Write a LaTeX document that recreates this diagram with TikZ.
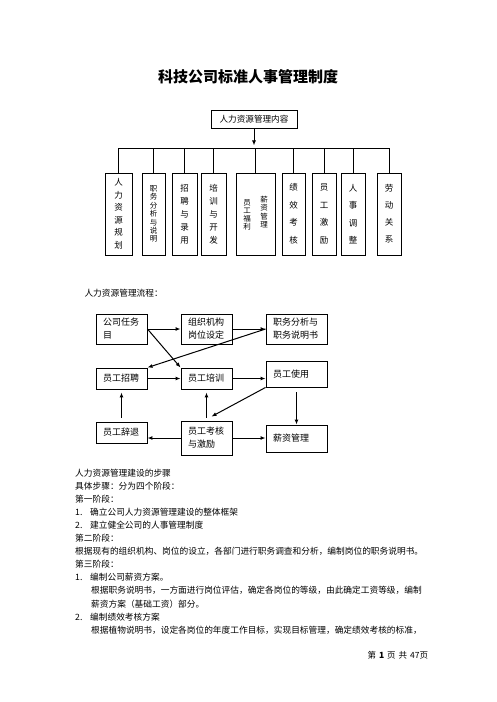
\documentclass[tikz,border=0pt]{standalone}
\usepackage{fontspec}
\setmainfont{Noto Sans CJK SC}
\usetikzlibrary{arrows.meta, positioning}

\tikzset{
  orgbox/.style={draw, line width=0.9pt, minimum height=82pt, inner sep=0pt,
    align=center, font=\fontsize{8.5}{12.5}\selectfont},
  vcol/.style={inner sep=0pt, align=center, font=\fontsize{7.5}{8.2}\selectfont},
  flowbox/.style={draw, line width=0.9pt, align=left, inner xsep=7pt, inner ysep=0pt,
    font=\fontsize{9}{13}\selectfont},
  flow/.style={->, line width=1pt},
  >={Latex[length=5pt,width=4pt]}
}

\begin{document}
\begin{tikzpicture}[x=1pt,y=1pt]
\useasboundingbox (0,0) rectangle (496,-702);
% title
\node[font=\fontsize{15}{18}\selectfont\bfseries] (title) at (248,-77) {科技公司标准人事管理制度};

% organisation chart
\node[draw, line width=0.9pt, minimum width=86pt, minimum height=18pt, inner sep=0pt,
  font=\fontsize{8.6}{10}\selectfont] (hr) at (254,-119) {人力资源管理内容};
\node[orgbox, minimum width=27pt] (b1) at (118.5,-214) {人\\力\\资\\源\\规\\划};
\node[orgbox, minimum width=23pt, font=\fontsize{7.5}{8.4}\selectfont] (b2) at (153.5,-214) {职\\务\\分\\析\\与\\说\\明};
\node[orgbox, minimum width=25pt, font=\fontsize{8.5}{13}\selectfont] (b3) at (184.5,-214) {招\\聘\\与\\录\\用};
\node[orgbox, minimum width=25pt, font=\fontsize{8.5}{13}\selectfont] (b4) at (213.5,-214) {培\\训\\与\\开\\发};
\node[orgbox, minimum width=39pt] (b5) at (255.5,-214) {};
\node[vcol] (b5a) at ([xshift=-8.5pt,yshift=-1pt]b5.center) {员\\工\\福\\利};
\node[vcol] (b5b) at ([xshift=8.5pt,yshift=2pt]b5.center) {薪\\资\\管\\理};
\node[orgbox, minimum width=23pt, font=\fontsize{8.5}{17.5}\selectfont] (b6) at (293.5,-214) {绩\\效\\考\\核};
\node[orgbox, minimum width=24pt, font=\fontsize{8.5}{17.5}\selectfont] (b7) at (324,-214) {员\\工\\激\\励};
\node[orgbox, minimum width=24pt, font=\fontsize{8.5}{17.5}\selectfont] (b8) at (353,-214) {人\\事\\调\\整};
\node[orgbox, minimum width=24pt, font=\fontsize{8.5}{17}\selectfont] (b9) at (389,-214) {劳\\动\\关\\系};

\coordinate (bus) at ([yshift=-20pt]hr.south);
\draw[flow] (hr.south) -- ([yshift=3pt]bus);
\draw[line width=0.9pt] (b1.north |- bus) -- (b9.north |- bus);
\foreach \i in {1,...,9}
    \draw[line width=0.9pt] (b\i.north |- bus) -- (b\i.north);

% flow chart
\node[anchor=west, font=\fontsize{8.7}{13}\selectfont] (flowtitle) at (81,-293) {人力资源管理流程：};
\node[flowbox, text width=37pt, minimum height=30pt] (task) at (121.5,-329) {公司任务\\目};
\node[flowbox, text width=37pt, minimum height=30pt] (org) at (206.5,-329) {组织机构\\岗位设定};
\node[flowbox, text width=47pt, minimum height=30pt] (job) at (296.5,-329) {职务分析与\\职务说明书};
\node[flowbox, text width=37pt, minimum height=21pt] (recruit) at (121.5,-378.5) {员工招聘};
\node[flowbox, text width=37pt, minimum height=21pt] (train) at (206.5,-378.5) {员工培训};
\node[flowbox, text width=47pt, minimum height=26pt] (use) at (296.5,-374) {员工使用};
\node[flowbox, text width=37pt, minimum height=21pt] (dismiss) at (121.5,-432.5) {员工辞退};
\node[flowbox, text width=37pt, minimum height=34pt] (assess) at (206.5,-438) {员工考核\\与激励};
\node[flowbox, text width=47pt, minimum height=27pt] (salary) at (296.5,-438.5) {薪资管理};

\draw[flow] (task.east) -- (org.west);
\draw[flow] (org.east) -- (job.west);
\draw[flow] (task.east) -- (train.north west);
\draw[flow] (job.west) -- (recruit.north east);
\draw[flow] (recruit.east) -- (train.west);
\draw[flow] (train.east) -- (train.east -| use.west);
\draw[flow] (use.south west) -- ([xshift=5pt,yshift=4pt]assess.north);
\draw[flow, shorten <=5pt] (use.south) -- (salary.north);
\draw[flow, shorten >=3pt] ([yshift=3pt]assess.north) -- (train.south);
\draw[flow, shorten >=3pt] ([yshift=4pt]dismiss.north) -- (recruit.south);
\draw[flow] (assess.west) -- (assess.west -| dismiss.east);
\draw[flow] (assess.east) -- (assess.east -| salary.west);

% steps text
\node[anchor=north west, inner sep=0pt, align=left, font=\fontsize{8.7}{13.1}\selectfont] (steps) at (75,-468.5) {人力资源管理建设的步骤\\
具体步骤：分为四个阶段：\\
第一阶段：\\
\makebox[15pt][l]{1.}确立公司人力资源管理建设的整体框架\\
\makebox[15pt][l]{2.}建立健全公司的人事管理制度\\
第二阶段：\\
根据现有的组织机构、岗位的设立，各部门进行职务调查和分析，编制岗位的职务说明书。\\
第三阶段：\\
\makebox[15pt][l]{1.}编制公司薪资方案。\\
\hspace*{16pt}根据职务说明书，一方面进行岗位评估，确定各岗位的等级，由此确定工资等级，编制\\
\hspace*{16pt}薪资方案（基础工资）部分。\\
\makebox[15pt][l]{2.}编制绩效考核方案\\
\hspace*{16pt}根据植物说明书，设定各岗位的年度工作目标，实现目标管理，确定绩效考核的标准，};

\node[anchor=west, font=\fontsize{8.5}{10}\selectfont] (footer) at (364,-655)
  {第\hspace{3pt}\textbf{1}\hspace{3pt}页\hspace{3pt}共\hspace{3pt}47页};
\end{tikzpicture}
\end{document}
